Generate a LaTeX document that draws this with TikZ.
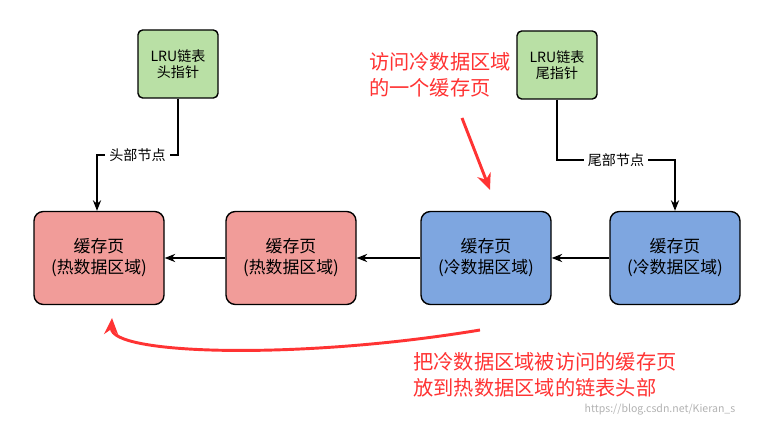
\documentclass[tikz,border=0pt]{standalone}
\usepackage{fontspec}
\setmainfont{Noto Sans CJK SC}
\usetikzlibrary{arrows.meta}
\definecolor{ptrgreen}{HTML}{B9E0A5}
\definecolor{hotred}{HTML}{F19C99}
\definecolor{coldblue}{HTML}{7EA6E0}
\definecolor{noteRed}{HTML}{FF3333}
\begin{document}
\begin{tikzpicture}[x=0.03cm,y=-0.03cm,line width=1.2pt,
  arr/.style={-{Stealth[length=9pt,width=7pt]}},
  redarr/.style={-{Stealth[length=14pt,width=12pt]},noteRed,line width=2.5pt},
  ptr node/.style={draw,rounded corners=4pt,fill=ptrgreen,minimum width=80*0.03cm,minimum height=68*0.03cm,align=center,font=\large,inner sep=1pt},
  page node/.style={draw,rounded corners=8pt,minimum width=130*0.03cm,minimum height=93*0.03cm,align=center,font=\Large},
  note/.style={text=noteRed,align=left,font=\LARGE}]

            \useasboundingbox (0,0) rectangle (772,427);

            \node[ptr node] (head) at (178,64) {LRU链表\\头指针};
            \node[ptr node] (tail) at (557,65) {LRU链表\\尾指针};

            \node[page node, fill=hotred] (p1) at (99,258) {缓存页\\(热数据区域)};
            \node[page node, fill=hotred] (p2) at (291,258) {缓存页\\(热数据区域)};
            \node[page node, fill=coldblue] (p3) at (486,258) {缓存页\\(冷数据区域)};
            \node[page node, fill=coldblue] (p4) at (675,258) {缓存页\\(冷数据区域)};

            \draw[arr] (p2) to (p1);
            \draw[arr] (p3) to (p2);
            \draw[arr] (p4) to (p3);

            \draw[arr] (head.south) |- (97,155) node[pos=0.75,fill=white,font=\large] {头部节点} -- (p1.north -| 97,0);
            \draw[arr] (tail.south) |- (675,160) node[pos=0.75,fill=white,font=\large] {尾部节点} -- (p4.north);

            \node[note] (visit) at (440,75) {访问冷数据区域\\的一个缓存页};
            \coordinate (visitEnd) at (490,190);
            \draw[redarr] (462,118) -- (visitEnd);

            \coordinate (moveStart) at (480,330);
            \coordinate (moveEnd) at (112,318);
            \draw[redarr] (moveStart) .. controls (300,360) and (110,355) .. (moveEnd);
            \node[note] (move) at (545,375) {把冷数据区域被访问的缓存页\\放到热数据区域的链表头部};

            \node[text=gray!60,font=\small] (mark) at (660,410) {https://blog.csdn.net/Kieran\_s};
        \end{tikzpicture}
\end{document}
